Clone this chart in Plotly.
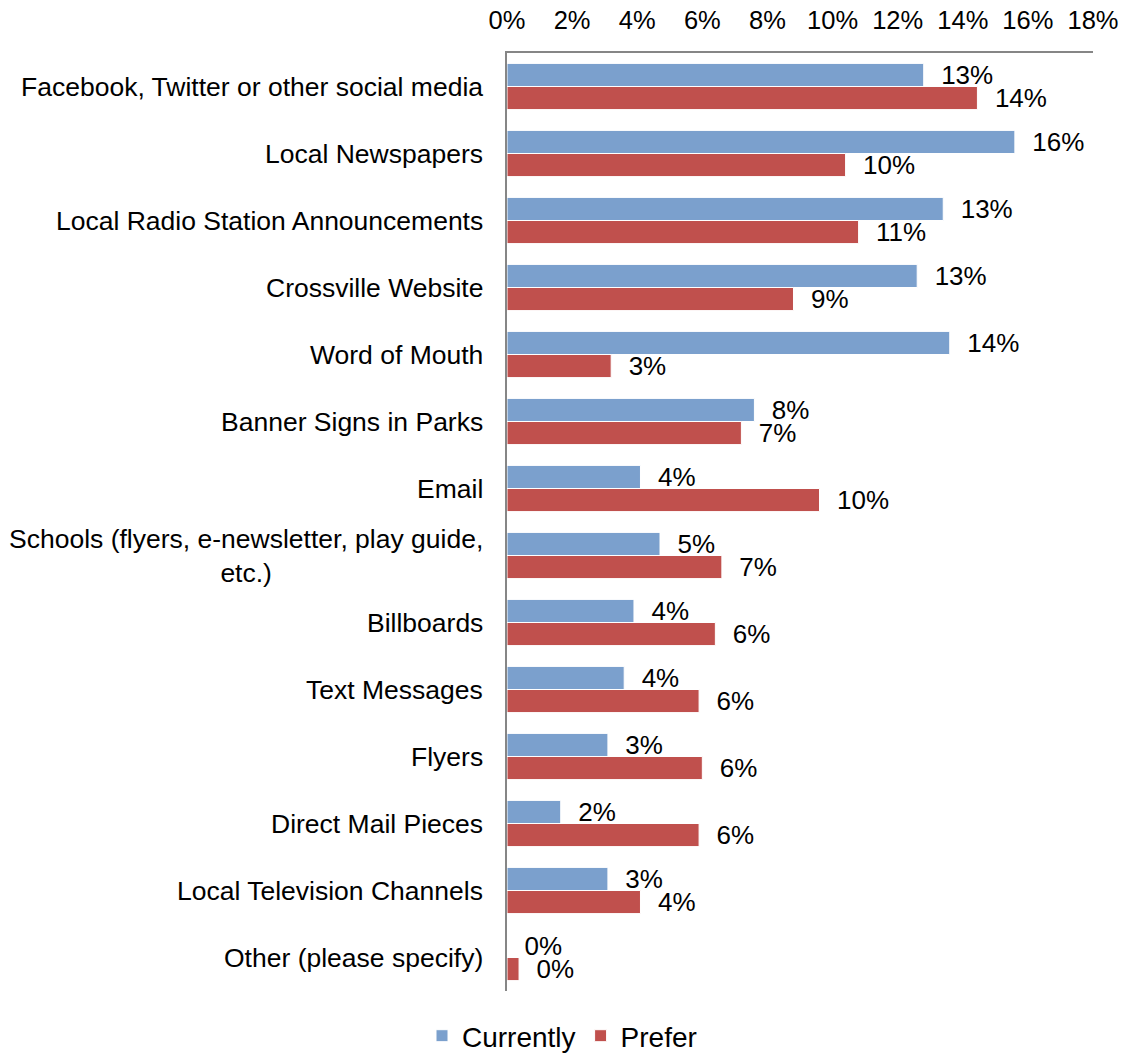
import plotly.graph_objects as go

categories = [
    "Facebook, Twitter or other social media",
    "Local Newspapers",
    "Local Radio Station Announcements",
    "Crossville Website",
    "Word of Mouth",
    "Banner Signs in Parks",
    "Email",
    "Schools (flyers, e-newsletter, play guide,<br>etc.)",
    "Billboards",
    "Text Messages",
    "Flyers",
    "Direct Mail Pieces",
    "Local Television Channels",
    "Other (please specify)",
]
currently = [12.8, 15.6, 13.4, 12.6, 13.6, 7.6, 4.1, 4.7, 3.9, 3.6, 3.1, 1.65, 3.1, 0.0]
prefer = [14.45, 10.4, 10.8, 8.8, 3.2, 7.2, 9.6, 6.6, 6.4, 5.9, 6.0, 5.9, 4.1, 0.37]
tick_vals = [0, 2, 4, 6, 8, 10, 12, 14, 16, 18]
tick_text = [f"{v}%" for v in tick_vals]

FONT = "Liberation Sans, Arial, sans-serif"
BLUE = "#7BA0CD"
RED = "#C0504D"
NBSP = "\u00a0"

fig = go.Figure()
for name, vals, color in [("Currently", currently, BLUE), ("Prefer", prefer, RED)]:
    fig.add_trace(go.Bar(
        name=name,
        y=categories,
        x=vals,
        orientation="h",
        marker=dict(color=color, line=dict(color="white", width=1)),
        texttemplate=NBSP * 2 + "%{x:.0f}%",
        textposition="outside",
        constraintext="none",
        textfont=dict(family=FONT, size=26, color="black"),
        cliponaxis=False,
    ))

# Category labels as annotations so wrapped labels stay centred
for cat in categories:
    fig.add_annotation(
        x=0, xref="paper", y=cat, yref="y",
        xanchor="right", xshift=-22, align="center",
        text=cat, showarrow=False,
        font=dict(family=FONT, size=26.5, color="black"),
    )

fig.update_layout(
    width=1124, height=1061,
    margin=dict(l=507, r=31, t=53, b=70),
    paper_bgcolor="white", plot_bgcolor="white",
    barmode="group", bargap=0.31, bargroupgap=0.0,
    font=dict(family=FONT, size=26, color="black"),
    legend=dict(
        orientation="h", x=0.5, xref="container", xanchor="center",
        y=-0.006, yanchor="bottom", yref="container",
        font=dict(family=FONT, size=28, color="black"),
        itemwidth=30, traceorder="normal",
    ),
    showlegend=True,
)
fig.update_xaxes(
    side="top", range=[0, 18], automargin=False,
    tickvals=tick_vals, ticktext=tick_text,
    showgrid=False, zeroline=False,
    showline=True, linecolor="#868686", linewidth=2,
    ticks="", tickfont=dict(family=FONT, size=25.5, color="black"),
    ticklabelstandoff=12,
)
fig.update_yaxes(
    autorange="reversed", showticklabels=False, automargin=False,
    showgrid=False, zeroline=False,
    showline=True, linecolor="#868686", linewidth=2,
    ticks="",
)

fig.write_html("out.html")
